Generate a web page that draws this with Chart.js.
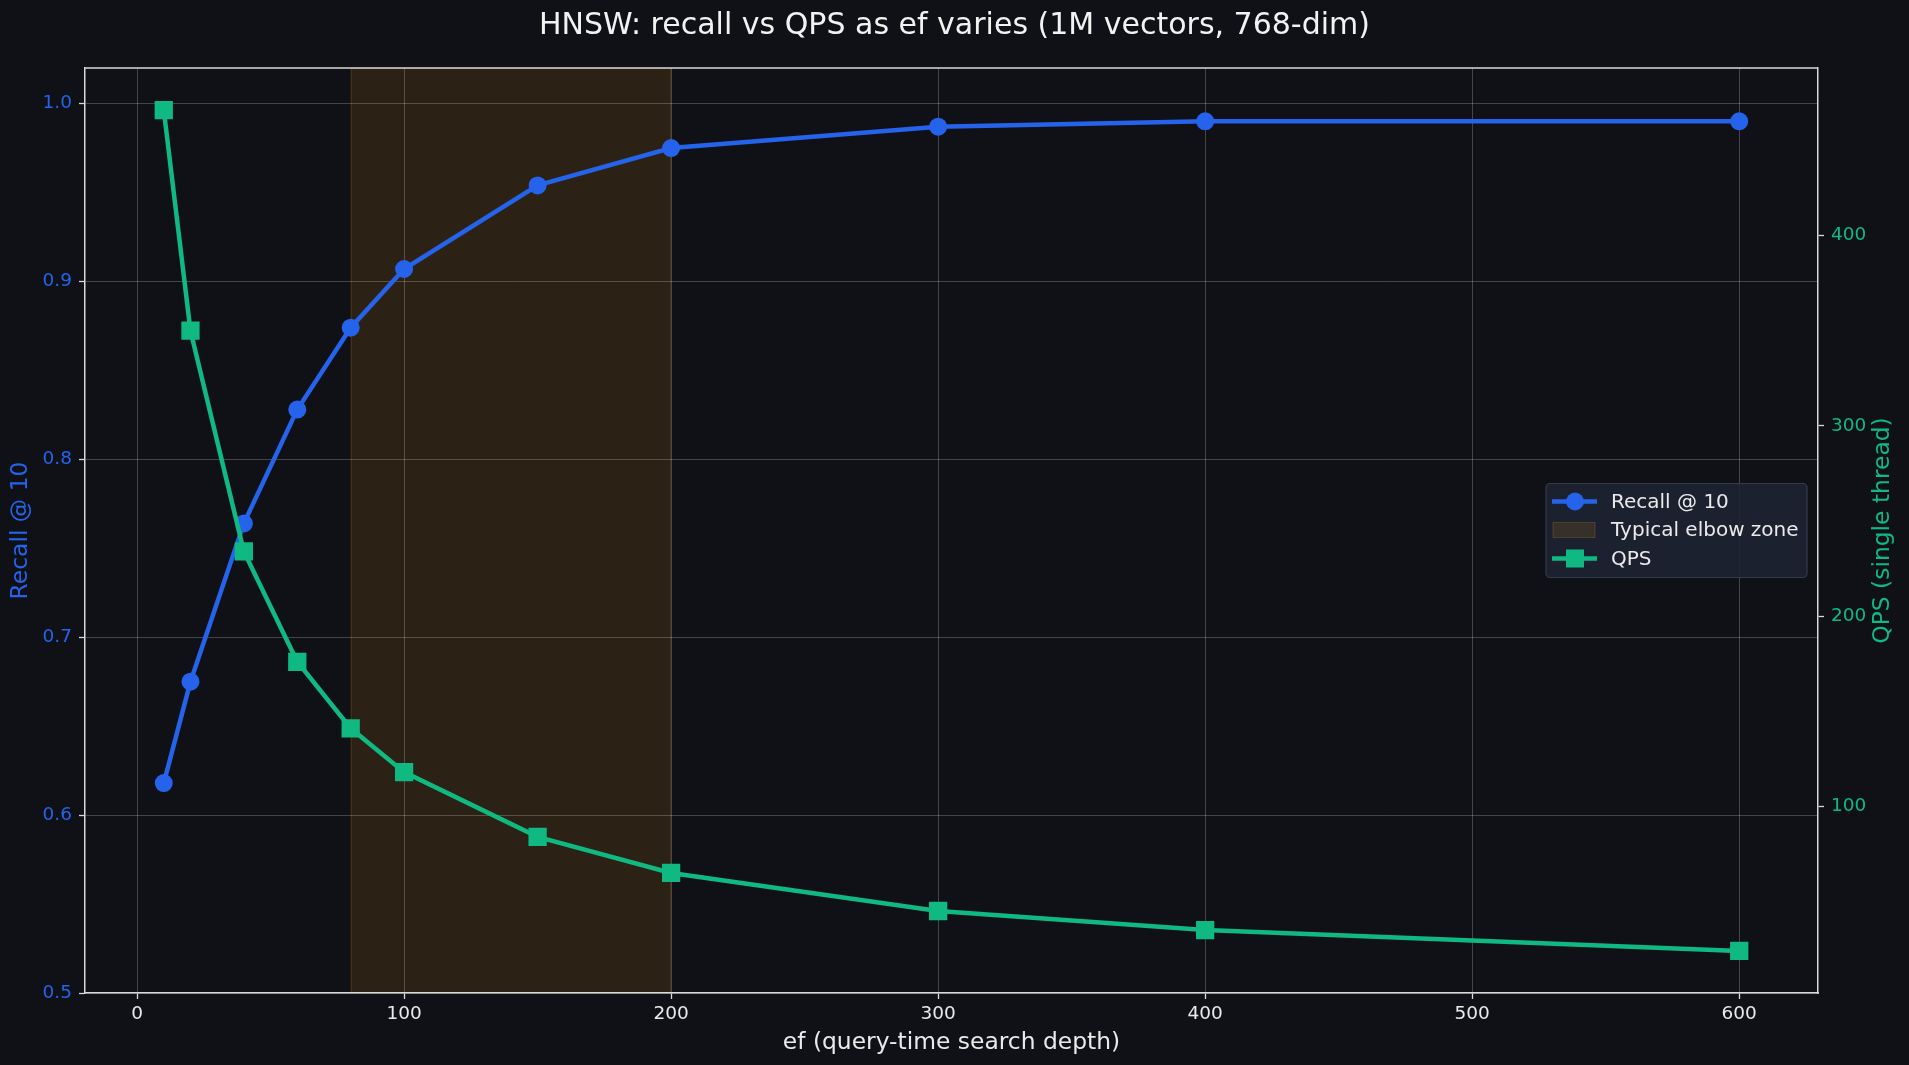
<!DOCTYPE html>
<html>
<head>
<meta charset="utf-8">
<title>HNSW recall vs QPS</title>
<script src="https://cdn.jsdelivr.net/npm/chart.js@4.4.1/dist/chart.umd.min.js"></script>
<style>
  html, body { margin: 0; padding: 0; background: #0f1117; overflow: hidden; }
  #wrap { width: 1909px; height: 1065px; position: relative; }
</style>
</head>
<body>
<div id="wrap"><canvas id="chart"></canvas></div>
<script>
// data
const efValues = [10, 20, 40, 60, 80, 100, 150, 200, 300, 400, 600];
const recallValues = [0.618, 0.675, 0.764, 0.828, 0.874, 0.907, 0.954, 0.975, 0.987, 0.990, 0.990];
const qpsValues = [466, 350, 234, 176, 141, 118, 84, 65, 45, 35, 24];
const xTicks = [0, 100, 200, 300, 400, 500, 600];
const recallTicks = [0.5, 0.6, 0.7, 0.8, 0.9, 1.0];
const qpsTicks = [100, 200, 300, 400];
const elbowZone = [80, 200];
const recallLimits = [0.5, 1.02];

const BG = '#0f1117', BLUE = '#2563eb', GREEN = '#10b981';
const SPINE = '#d9d9d9', GRID = 'rgba(255,255,255,0.22)', TEXT = '#eaeaea';
const FONT = "'DejaVu Sans', sans-serif";
const LABEL_SIZE = 23.4;

// matplotlib style 5% margins
const pad = (arr) => { const lo = Math.min(...arr), hi = Math.max(...arr), r = hi - lo; return [lo - 0.05 * r, hi + 0.05 * r]; };
const xLim = pad(efValues);
const qpsLim = pad(qpsValues);

const fixTicks = (list) => (scale) => { scale.ticks = list.map(v => ({ value: v })); };

const bgPlugin = {
    id: 'bgBand',
    beforeDraw(chart) {
        const { ctx, chartArea: a, scales } = chart;
        ctx.save();
        ctx.fillStyle = BG;
        ctx.fillRect(0, 0, chart.width, chart.height);
        const x1 = scales.x.getPixelForValue(elbowZone[0]);
        const x2 = scales.x.getPixelForValue(elbowZone[1]);
        ctx.fillStyle = 'rgba(245,158,11,0.12)';
        ctx.fillRect(x1, a.top, x2 - x1, a.bottom - a.top);
        ctx.strokeStyle = 'rgba(245,158,11,0.18)';
        ctx.lineWidth = 1;
        ctx.strokeRect(x1 + 0.5, a.top, x2 - x1 - 1, a.bottom - a.top);
        ctx.restore();
    }
};

const spinePlugin = {
    id: 'topSpine',
    afterDraw(chart) {
        const { ctx, chartArea: a, scales } = chart;
        ctx.save();
        ctx.strokeStyle = SPINE;
        ctx.lineWidth = 1.5;
        ctx.beginPath();
        ctx.moveTo(a.left, a.top);
        ctx.lineTo(a.right, a.top);
        ctx.stroke();

        // right axis title reads bottom-to-top like matplotlib's twin axis label
        const s = scales.y2;
        ctx.translate(s.right - 12 - LABEL_SIZE * 0.6, (a.top + a.bottom) / 2);
        ctx.rotate(-Math.PI / 2);
        ctx.fillStyle = GREEN;
        ctx.font = `${LABEL_SIZE}px ${FONT}`;
        ctx.textAlign = 'center';
        ctx.textBaseline = 'middle';
        ctx.fillText('QPS (single thread)', 0, 0);
        ctx.restore();
    }
};

const legendPlugin = {
    id: 'boxLegend',
    afterDraw(chart) {
        const { ctx, chartArea: a } = chart;
        const w = 261, h = 94;
        const left = a.right - 11 - w;
        const top = (a.top + a.bottom) / 2 - h / 2;
        ctx.save();
        ctx.fillStyle = 'rgba(30,36,51,0.9)';
        ctx.strokeStyle = '#343b4b';
        ctx.lineWidth = 1.2;
        ctx.beginPath();
        ctx.roundRect(left, top, w, h, 4);
        ctx.fill();
        ctx.stroke();

        const hx1 = left + 6, hx2 = left + 51, hm = left + 29;
        const rows = [top + 18, top + 46.5, top + 75];

        // Recall handle
        ctx.strokeStyle = BLUE; ctx.lineWidth = 4.5;
        ctx.beginPath(); ctx.moveTo(hx1, rows[0]); ctx.lineTo(hx2, rows[0]); ctx.stroke();
        ctx.fillStyle = BLUE;
        ctx.beginPath(); ctx.arc(hm, rows[0], 9, 0, Math.PI * 2); ctx.fill();

        // elbow zone patch
        ctx.fillStyle = 'rgba(245,158,11,0.12)';
        ctx.fillRect(hx1 + 1, rows[1] - 7.5, 42, 15);
        ctx.strokeStyle = 'rgba(245,158,11,0.2)'; ctx.lineWidth = 1;
        ctx.strokeRect(hx1 + 1, rows[1] - 7.5, 42, 15);

        // QPS handle
        ctx.strokeStyle = GREEN; ctx.lineWidth = 4.5;
        ctx.beginPath(); ctx.moveTo(hx1, rows[2]); ctx.lineTo(hx2, rows[2]); ctx.stroke();
        ctx.fillStyle = GREEN;
        ctx.fillRect(hm - 9, rows[2] - 9, 18, 18);

        ctx.fillStyle = TEXT;
        ctx.font = `20px ${FONT}`;
        ctx.textBaseline = 'middle';
        ctx.textAlign = 'left';
        ['Recall @ 10', 'Typical elbow zone', 'QPS'].forEach((t, i) => ctx.fillText(t, left + 65, rows[i] + 1));
        ctx.restore();
    }
};

const recallData = efValues.map((x, i) => ({ x, y: recallValues[i] }));
const qpsData = efValues.map((x, i) => ({ x, y: qpsValues[i] }));

new Chart('chart', {
    type: 'line',
    data: {
        datasets: [
            {
                label: 'QPS',
                data: qpsData,
                yAxisID: 'y2',
                order: 1,
                borderColor: GREEN,
                backgroundColor: GREEN,
                borderWidth: 4.5,
                pointStyle: 'rect',
                pointRadius: 11.5,
                pointBorderWidth: 2,
                pointBackgroundColor: GREEN,
                pointBorderColor: GREEN,
                tension: 0,
                fill: false
            },
            {
                label: 'Recall @ 10',
                data: recallData,
                yAxisID: 'y',
                order: 2,
                borderColor: BLUE,
                backgroundColor: BLUE,
                borderWidth: 4.5,
                pointStyle: 'circle',
                pointRadius: 8,
                pointBorderWidth: 2,
                pointBackgroundColor: BLUE,
                pointBorderColor: BLUE,
                tension: 0,
                fill: false
            }
        ]
    },
    options: {
        responsive: true,
        maintainAspectRatio: false,
        animation: false,
        layout: { padding: 0 },
        plugins: {
            legend: { display: false },
            tooltip: { enabled: false },
            title: {
                display: true,
                text: 'HNSW: recall vs QPS as ef varies (1M vectors, 768-dim)',
                color: '#f2f2f2',
                font: { family: FONT, size: 30, weight: 'normal' },
                padding: { top: 8, bottom: 24 }
            }
        },
        scales: {
            x: {
                type: 'linear',
                position: 'bottom',
                min: xLim[0],
                max: xLim[1],
                afterBuildTicks: fixTicks(xTicks),
                afterFit: (s) => { s.height = 72; },
                grid: { color: GRID, lineWidth: 1, tickColor: SPINE, tickLength: 6, tickWidth: 1.3 },
                border: { display: true, color: SPINE, width: 1.5 },
                ticks: { color: TEXT, font: { family: FONT, size: 18.5 }, padding: 4, autoSkip: false, maxRotation: 0, callback: (v) => String(v) },
                title: { display: true, text: 'ef (query-time search depth)', color: TEXT, font: { family: FONT, size: LABEL_SIZE }, padding: { top: 0, bottom: 8 } }
            },
            y: {
                type: 'linear',
                position: 'left',
                min: recallLimits[0],
                max: recallLimits[1],
                afterBuildTicks: fixTicks(recallTicks),
                afterFit: (s) => { s.width = 85; },
                grid: { color: GRID, lineWidth: 1, tickColor: SPINE, tickLength: 6, tickWidth: 1.3 },
                border: { display: true, color: SPINE, width: 1.5 },
                ticks: { color: BLUE, font: { family: FONT, size: 18.5 }, padding: 7, autoSkip: false, callback: (v) => v.toFixed(1) },
                title: { display: true, text: 'Recall @ 10', color: BLUE, font: { family: FONT, size: LABEL_SIZE }, padding: { top: 7, bottom: 0 } }
            },
            y2: {
                type: 'linear',
                position: 'right',
                min: qpsLim[0],
                max: qpsLim[1],
                afterBuildTicks: fixTicks(qpsTicks),
                afterFit: (s) => { s.width = 91; },
                grid: { drawOnChartArea: false, tickColor: SPINE, tickLength: 6, tickWidth: 1.3 },
                border: { display: true, color: SPINE, width: 1.5 },
                ticks: { color: GREEN, font: { family: FONT, size: 18.5 }, padding: 7, autoSkip: false, callback: (v) => String(v) },
                title: { display: false }
            }
        }
    },
    plugins: [bgPlugin, spinePlugin, legendPlugin]
});
</script>
</body>
</html>
